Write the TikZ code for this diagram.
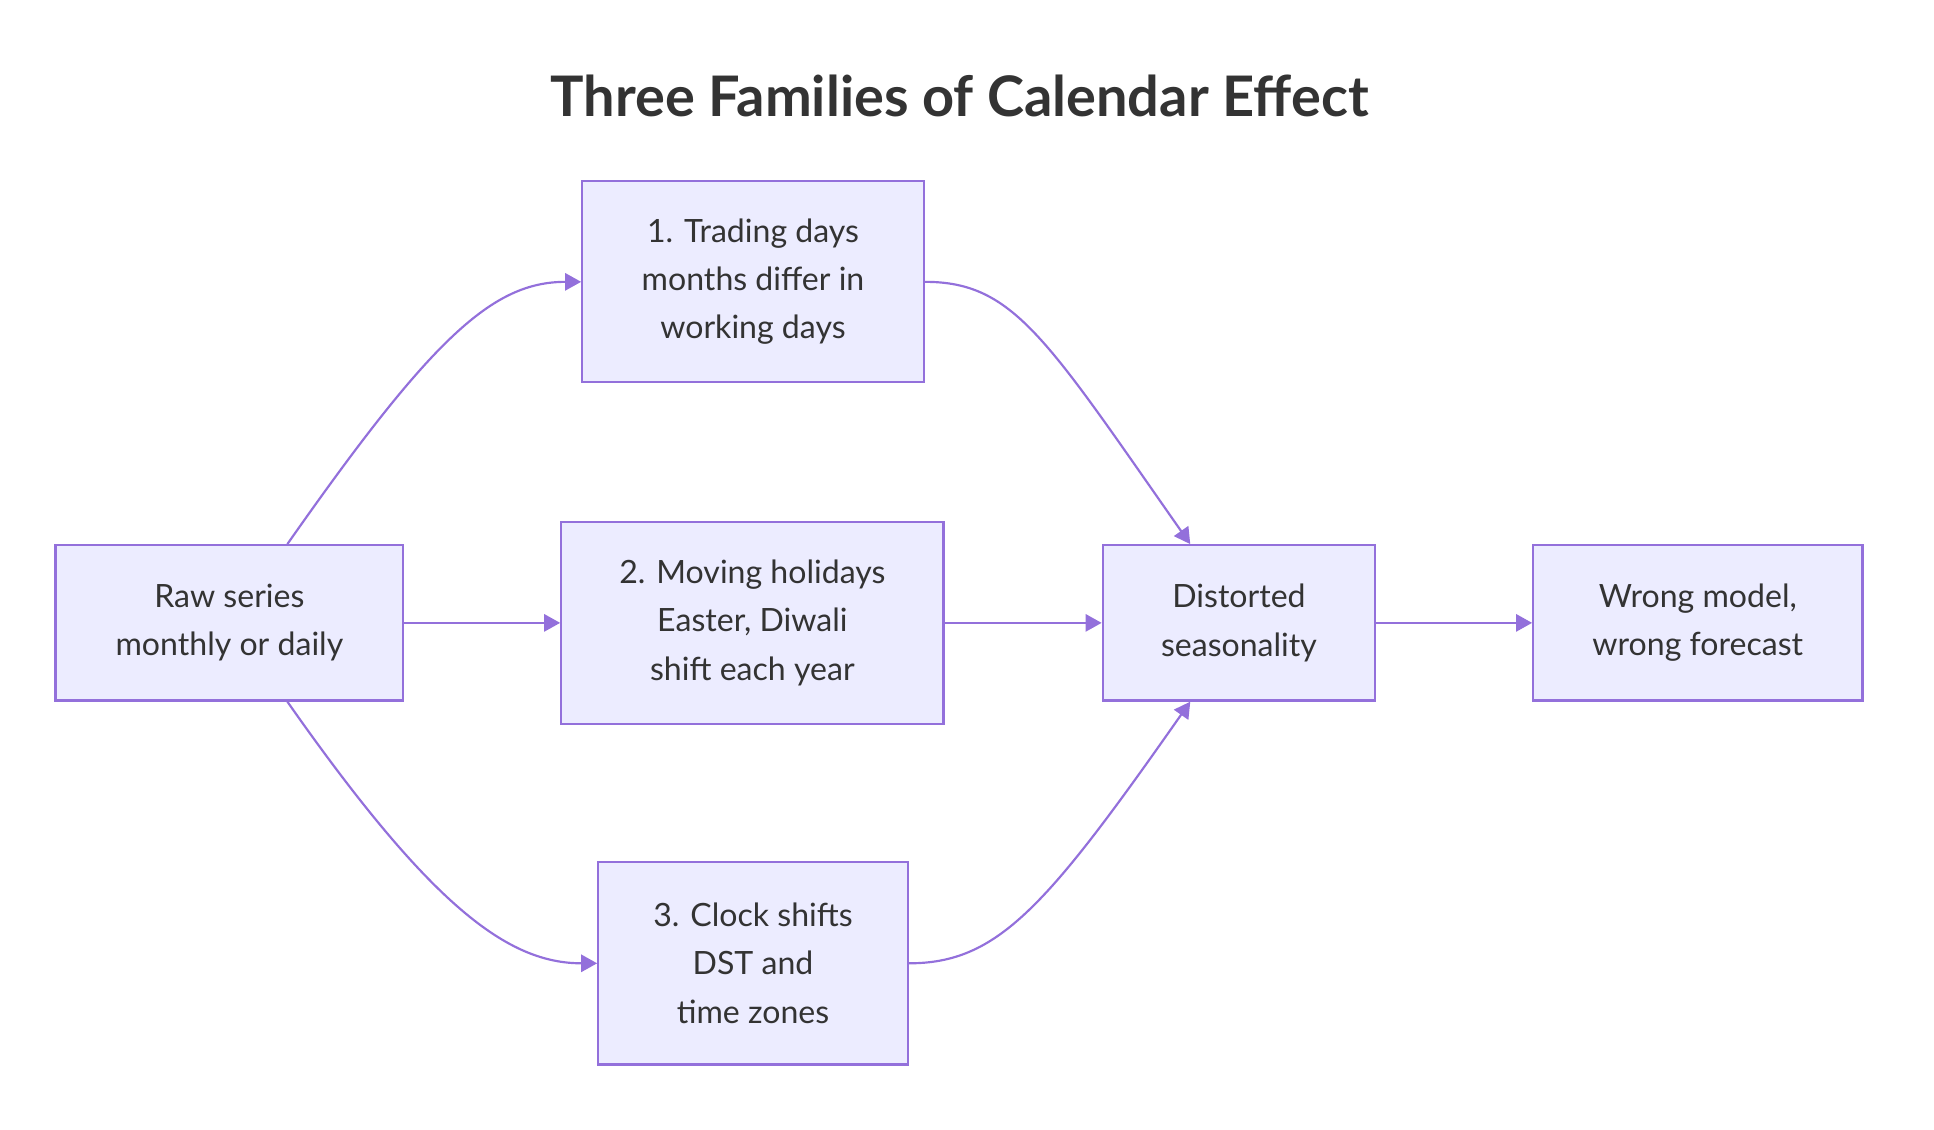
\documentclass[tikz,border=0pt]{standalone}
\usepackage{fontspec}
\setmainfont{Lato}
\usetikzlibrary{arrows.meta,calc}
\definecolor{mm_fill}{RGB}{236, 236, 255}
\definecolor{mm_line}{RGB}{147, 112, 219}
\definecolor{mm_text}{RGB}{51, 51, 51}
\tikzstyle{bx}=[rectangle,fill=mm_fill,draw=mm_line,text=mm_text,
  line width=1pt,inner sep=0pt,align=center,
  font=\fontsize{14.8}{22.2}\selectfont]
\tikzstyle{ar}=[draw=mm_line,line width=1pt,
  -{Triangle[length=0.26cm,width=0.28cm]}]
\tikzstyle{ttl}=[text=mm_text,font=\fontsize{25.8}{31}\selectfont\bfseries]
\tikzstyle{none}=[]

\begin{document}
\begin{tikzpicture}[x=0.02cm, y=-0.02cm]
            \useasboundingbox (0, 0) rectangle (1568, 916);
            \node [style=ttl] (t) at (778, 78) {Three Families of Calendar Effect};
            \node [style=bx, minimum width=5.64cm, minimum height=2.52cm] (0) at (186, 505) {Raw series\\monthly or daily};
            \node [style=bx, minimum width=5.54cm, minimum height=3.26cm] (1) at (610.5, 228.5) {1. Trading days\\months differ in\\working days};
            \node [style=bx, minimum width=6.2cm, minimum height=3.28cm] (2) at (610, 505) {2. Moving holidays\\Easter, Diwali\\shift each year};
            \node [style=bx, minimum width=5.02cm, minimum height=3.28cm] (3) at (610.5, 781) {3. Clock shifts\\DST and\\time zones};
            \node [style=bx, minimum width=4.42cm, minimum height=2.52cm] (4) at (1004.5, 505) {Distorted\\seasonality};
            \node [style=bx, minimum width=5.34cm, minimum height=2.52cm] (5) at (1376.5, 505) {Wrong model,\\wrong forecast};
            \draw [style=ar] ([xshift=0.94cm]0.north) .. controls +(117, -167) and +(-72, 0) .. (1.west);
            \draw [style=ar] (0) to (2);
            \draw [style=ar] ([xshift=0.94cm]0.south) .. controls +(117, 167) and +(-72, 0) .. (3.west);
            \draw [style=ar] (1.east) .. controls +(72, 0) and +(-117, -167) .. ([xshift=-0.79cm]4.north);
            \draw [style=ar] (2) to (4);
            \draw [style=ar] (3.east) .. controls +(72, 0) and +(-117, 167) .. ([xshift=-0.79cm]4.south);
            \draw [style=ar] (4) to (5);
    \end{tikzpicture}
\end{document}
